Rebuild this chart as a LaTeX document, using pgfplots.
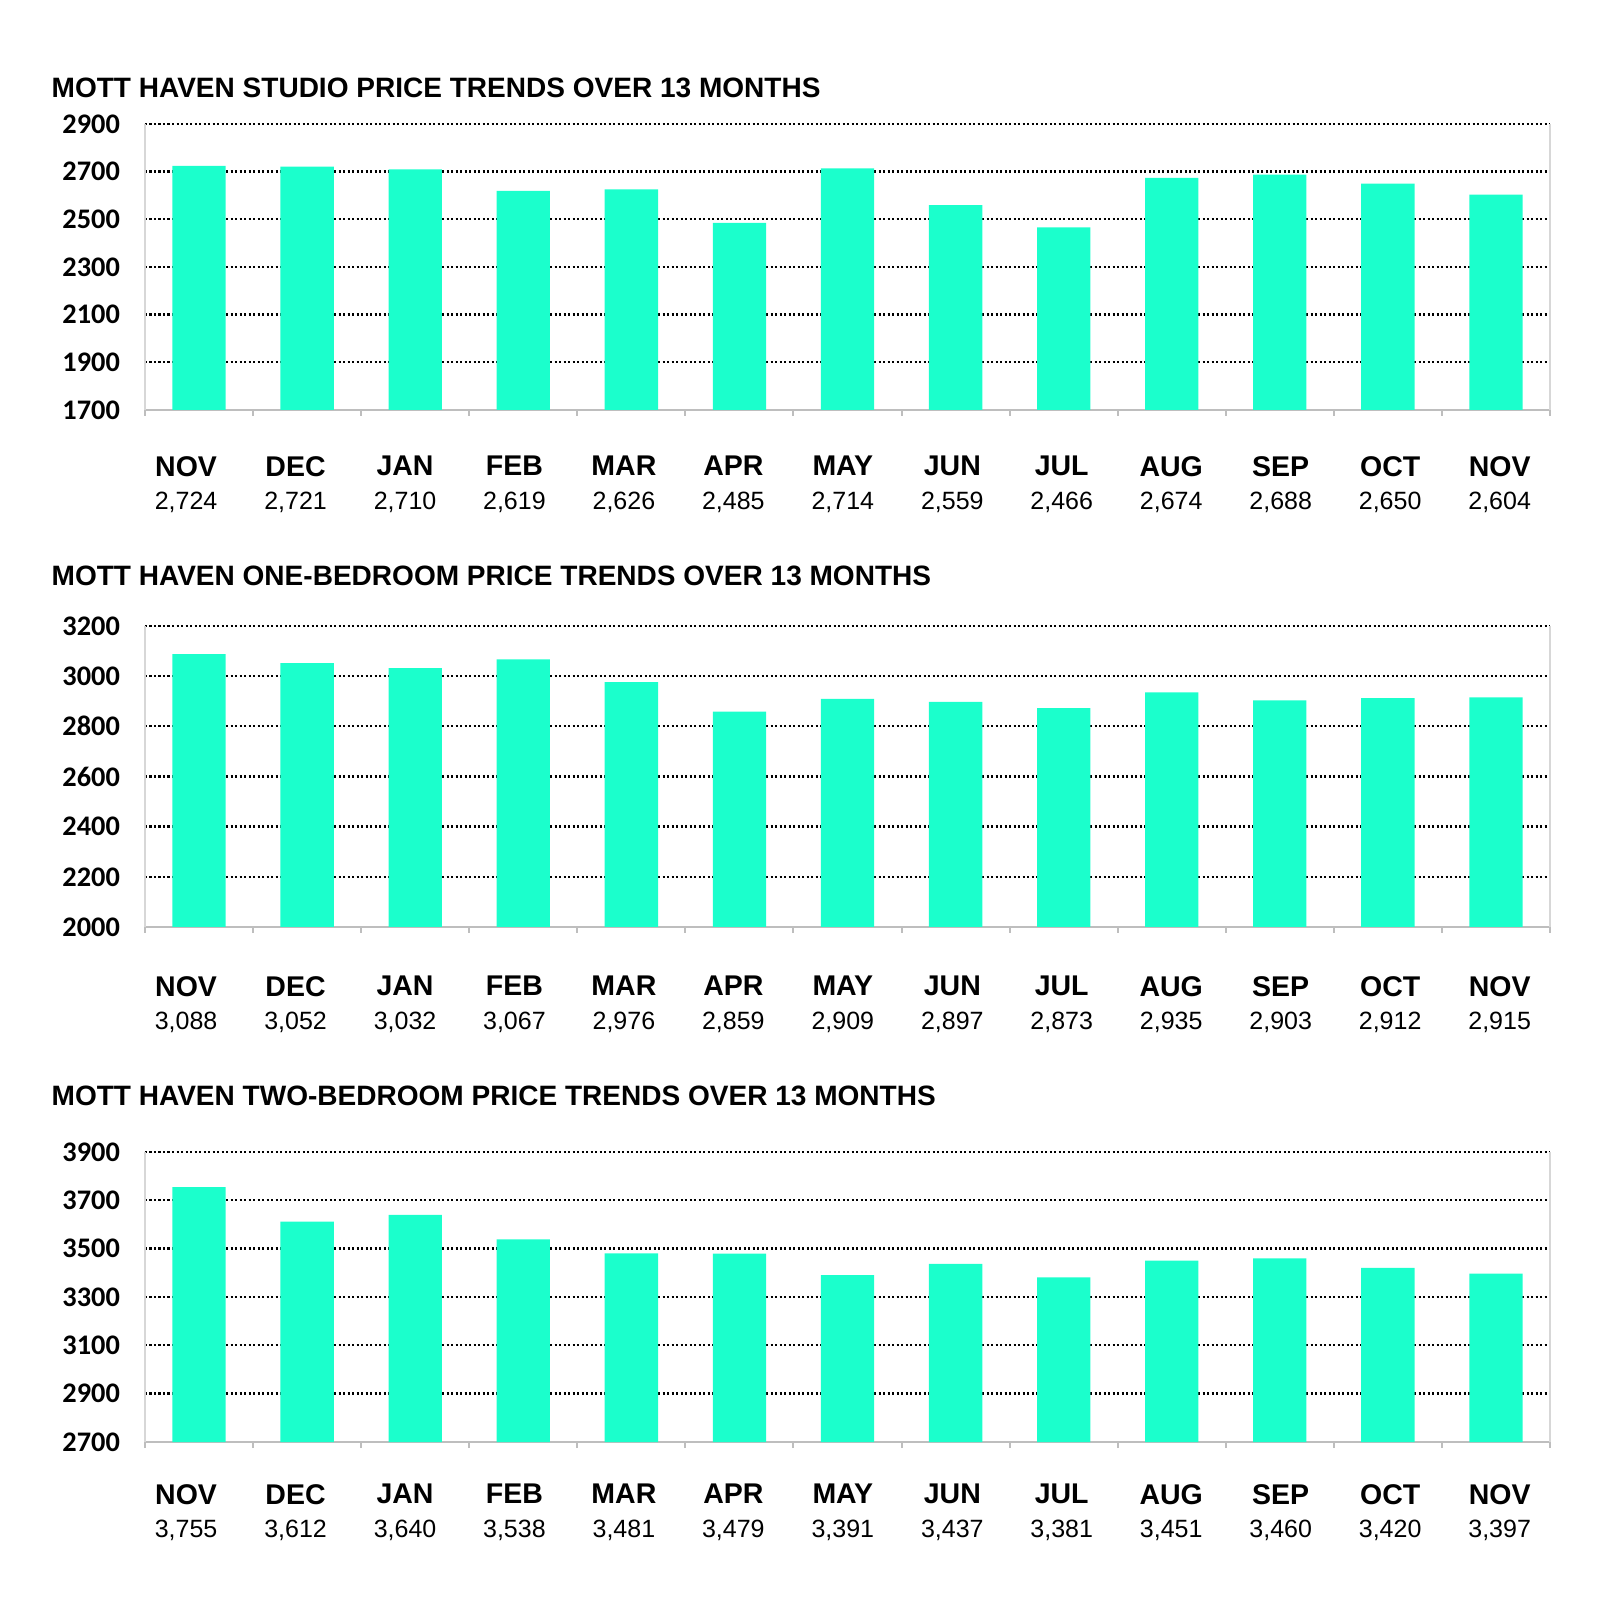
\documentclass[border=0pt]{standalone}
\usepackage{pgfplots}
\pgfplotsset{compat=1.18}
\usepackage{fontspec}
\setmainfont{Liberation Sans}
\newfontfamily\calibri{Carlito}
\definecolor{barc}{RGB}{27,255,204}
\definecolor{axgray}{RGB}{190,190,190}
\definecolor{axlgray}{RGB}{215,215,215}
\pgfplotsset{
  mybars/.style={
    scale only axis, width=421.5pt,
    xmin=-0.5, xmax=12.5,
    axis x line*=bottom, axis y line*=box,
    x axis line style={axgray, line width=0.6pt},
    y axis line style={axlgray, line width=0.5pt},
    xtick={-0.120,0.893,1.906,2.918,3.931,4.944,5.957,6.970,7.982,8.995,10.008,11.021,12.034},
    major x tick style={draw=none},
    minor xtick={-0.5,0.5,...,12.5},
    minor x tick style={axgray, line width=0.6pt},
    minor tick length=1.8pt,
    xtick align=outside,
    ytick style={draw=none}, yticklabel pos=left,
    ymajorgrids,
    major grid style={black, line width=0.7pt, dash pattern=on 0.7pt off 0.65pt},
    extra y tick style={grid=none},
    yticklabel style={font=\calibri\bfseries\fontsize{8.5}{10}\selectfont, xshift=-4pt},
    /pgf/number format/assume math mode=true,
    /pgf/number format/1000 sep={},
    xticklabel style={align=center, font=\fontsize{7.5}{10}\selectfont},
    bar width=16pt,
    clip=false,
  }
}
\newcommand{\m}[2]{{\fontsize{8.55}{10}\selectfont\bfseries #1}\\#2}
\begin{document}
\begin{tikzpicture}
\path (0,0) rectangle (480pt,483.3pt);
% Titles
\node[anchor=mid west, font=\fontsize{8.41}{10}\selectfont\bfseries, inner sep=0pt] at (15.3pt,456.6pt) {MOTT HAVEN STUDIO PRICE TRENDS OVER 13 MONTHS};
\node[anchor=mid west, font=\fontsize{8.41}{10}\selectfont\bfseries, inner sep=0pt] at (15.3pt,310.2pt) {MOTT HAVEN ONE-BEDROOM PRICE TRENDS OVER 13 MONTHS};
\node[anchor=mid west, font=\fontsize{8.41}{10}\selectfont\bfseries, inner sep=0pt] at (15.3pt,154.2pt) {MOTT HAVEN TWO-BEDROOM PRICE TRENDS OVER 13 MONTHS};

\begin{axis}[mybars, at={(43.5pt,360.3pt)}, anchor=south west, height=85.8pt,
  x tick label style={yshift=-6.1pt},
  ymin=1700, ymax=2900, ytick={1900,2100,...,2900}, extra y ticks={1700},
  xticklabels={{\m{NOV}{2,724}},{\m{DEC}{2,721}},{\m{JAN}{2,710}},{\m{FEB}{2,619}},{\m{MAR}{2,626}},{\m{APR}{2,485}},{\m{MAY}{2,714}},{\m{JUN}{2,559}},{\m{JUL}{2,466}},{\m{AUG}{2,674}},{\m{SEP}{2,688}},{\m{OCT}{2,650}},{\m{NOV}{2,604}}}]
\addplot[ybar, fill=barc, draw=none] coordinates {(0,2724) (1,2721) (2,2710) (3,2619) (4,2626) (5,2485) (6,2714) (7,2559) (8,2466) (9,2674) (10,2688) (11,2650) (12,2604)};
\end{axis}

\begin{axis}[mybars, at={(43.5pt,205.2pt)}, anchor=south west, height=90.3pt,
  x tick label style={yshift=-7pt},
  ymin=2000, ymax=3200, ytick={2200,2400,...,3200}, extra y ticks={2000},
  xticklabels={{\m{NOV}{3,088}},{\m{DEC}{3,052}},{\m{JAN}{3,032}},{\m{FEB}{3,067}},{\m{MAR}{2,976}},{\m{APR}{2,859}},{\m{MAY}{2,909}},{\m{JUN}{2,897}},{\m{JUL}{2,873}},{\m{AUG}{2,935}},{\m{SEP}{2,903}},{\m{OCT}{2,912}},{\m{NOV}{2,915}}}]
\addplot[ybar, fill=barc, draw=none] coordinates {(0,3088) (1,3052) (2,3032) (3,3067) (4,2976) (5,2859) (6,2909) (7,2897) (8,2873) (9,2935) (10,2903) (11,2912) (12,2915)};
\end{axis}

\begin{axis}[mybars, at={(43.5pt,50.7pt)}, anchor=south west, height=87pt,
  x tick label style={yshift=-4.85pt},
  ymin=2700, ymax=3900, ytick={2900,3100,...,3900}, extra y ticks={2700},
  xticklabels={{\m{NOV}{3,755}},{\m{DEC}{3,612}},{\m{JAN}{3,640}},{\m{FEB}{3,538}},{\m{MAR}{3,481}},{\m{APR}{3,479}},{\m{MAY}{3,391}},{\m{JUN}{3,437}},{\m{JUL}{3,381}},{\m{AUG}{3,451}},{\m{SEP}{3,460}},{\m{OCT}{3,420}},{\m{NOV}{3,397}}}]
\addplot[ybar, fill=barc, draw=none] coordinates {(0,3755) (1,3612) (2,3640) (3,3538) (4,3481) (5,3479) (6,3391) (7,3437) (8,3381) (9,3451) (10,3460) (11,3420) (12,3397)};
\end{axis}
\end{tikzpicture}
\end{document}
